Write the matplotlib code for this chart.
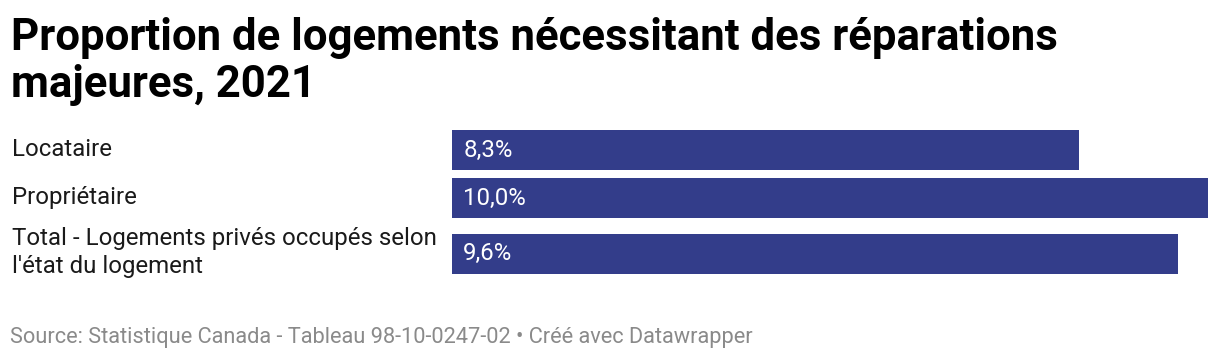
import matplotlib
matplotlib.use("Agg")
import matplotlib.pyplot as plt

categories = ["Locataire", "Propriétaire", "Total - Logements privés occupés selon\nl'état du logement"]
values = [8.3, 10.0, 9.6]
value_labels = ["8,3%", "10,0%", "9,6%"]

title_lines = ["Proportion de logements nécessitant des réparations", "majeures, 2021"]
source = "Source: Statistique Canada - Tableau 98-10-0247-02 • Créé avec Datawrapper"

W, H = 1220, 360
fig = plt.figure(figsize=(W / 100, H / 100), dpi=100)
plt.rcParams['font.family'] = ['Roboto', 'DejaVu Sans']

bar_color = "#333d8a"

# Axes spans pixel rows 125..280, columns 452..1208
ax_top, ax_bot = 125, 280
ax = fig.add_axes([452 / W, 1 - ax_bot / H, 756 / W, (ax_bot - ax_top) / H])
ax.set_xlim(0, 10.0)
ax.set_ylim(ax_bot, ax_top)  # pixel-like units, inverted
centers = [150, 198, 253.5]
bar_h = 40
ax.barh(centers, values, height=bar_h, color=bar_color)
ax.axis("off")

for c, lab, v in zip(centers, value_labels, values):
    ax.text(0.15, c, lab, color="white", fontsize=17.3, va="center", ha="left")

for c, cat in zip(centers, categories):
    fig.text(12 / W, 1 - (c - 1) / H, cat, fontsize=17.3, va="center", ha="left",
             color="#1a1a1a", linespacing=1.28)

for i, (line, base) in enumerate(zip(title_lines, [50, 97])):
    fig.text(11 / W, 1 - base / H, line, fontsize=31.5, fontweight="bold", va="baseline",
             ha="left", color="black")

fig.text(10 / W, 1 - 343 / H, source, fontsize=15.7, color="#8a8a8a", va="baseline", ha="left")

fig.savefig("out.png", dpi=100)
